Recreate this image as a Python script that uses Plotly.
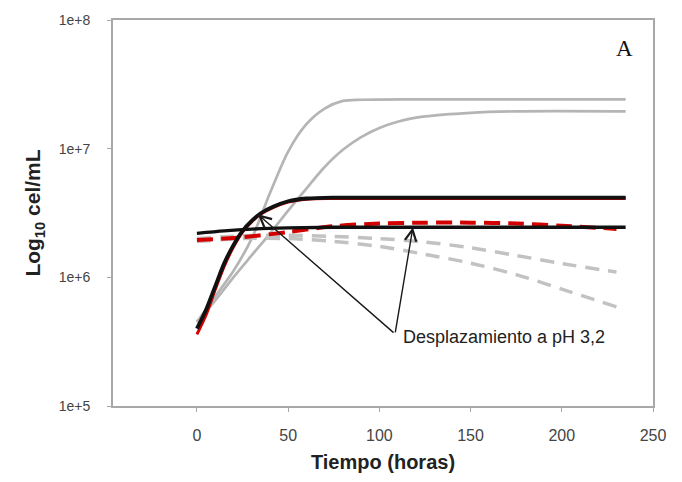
import plotly.graph_objects as go

# Time axis (hours) and cell densities (cel/mL) for each simulated culture
hours_fast = [0, 10, 20, 30, 40, 50, 60, 70, 80, 90, 120, 235]
gray_fast = [4.5e5, 7.1e5, 1.12e6, 2.0e6, 4.5e6, 9.5e6, 1.55e7, 2.05e7, 2.35e7, 2.4e7, 2.42e7, 2.42e7]

hours_slow = [0, 10, 20, 30, 40, 50, 60, 70, 80, 90, 100, 110, 125, 150, 175, 235]
gray_slow = [4.5e5, 6.6e5, 1.0e6, 1.48e6, 2.19e6, 3.3e6, 4.9e6, 7.2e6, 9.8e6, 1.23e7,
             1.45e7, 1.62e7, 1.78e7, 1.9e7, 1.95e7, 1.95e7]

hours_growth = [0, 5, 10, 15, 20, 25, 30, 35, 42, 50, 60, 75, 235]
black_growth = [4.0e5, 5.6e5, 8.5e5, 1.29e6, 1.78e6, 2.3e6, 2.75e6, 3.15e6, 3.55e6, 3.9e6, 4.1e6, 4.17e6, 4.17e6]
red_growth = [3.6e5, 5.1e5, 8.0e5, 1.22e6, 1.72e6, 2.25e6, 2.7e6, 3.1e6, 3.5e6, 3.85e6, 4.05e6, 4.1e6, 4.1e6]

hours_flat = [0, 15, 30, 50, 75, 235]
black_flat = [2.2e6, 2.3e6, 2.37e6, 2.42e6, 2.45e6, 2.45e6]

hours_dash = [0, 25, 50, 75, 100, 125, 150, 175, 200, 230]
red_dash = [1.95e6, 2.05e6, 2.25e6, 2.5e6, 2.62e6, 2.66e6, 2.66e6, 2.62e6, 2.52e6, 2.38e6]
gray_dash_hi = [2.0e6, 2.1e6, 2.12e6, 2.08e6, 2.0e6, 1.88e6, 1.7e6, 1.48e6, 1.28e6, 1.1e6]
gray_dash_lo = [1.9e6, 2.0e6, 2.0e6, 1.9e6, 1.74e6, 1.51e6, 1.29e6, 1.05e6, 8.1e5, 5.9e5]

# Arrow geometry: (hour, log10 cel/mL) for the shared tail and both tips
arrow_tail = (108.6, 5.56)
arrow_tips = [(33.4, 6.49), (118.4, 6.39)]

y_ticks = [1e5, 1e6, 1e7, 1e8]
y_tick_text = ["1e+5", "1e+6", "1e+7", "1e+8"]
x_ticks = [0, 50, 100, 150, 200, 250]

GRAY = "#b5b5b5"
DASH_GRAY = "#c2c2c2"
RED = "#d40000"
FONT = "Liberation Sans, Arial"

fig = go.Figure()

def add_line(x, y, color, width, dash="solid"):
    fig.add_trace(go.Scatter(
        x=x, y=y, mode="lines",
        line=dict(color=color, width=width, dash=dash, shape="spline", smoothing=0.8),
        hoverinfo="skip", showlegend=False,
    ))

add_line(hours_fast, gray_fast, GRAY, 2.7)
add_line(hours_slow, gray_slow, GRAY, 2.7)
add_line(hours_dash, gray_dash_hi, DASH_GRAY, 3.5, "14px,9px")
add_line(hours_dash, gray_dash_lo, DASH_GRAY, 3.5, "14px,9px")
add_line(hours_dash, red_dash, RED, 4, "16px,8px")
add_line(hours_growth, red_growth, RED, 3)
add_line(hours_growth, black_growth, "#111111", 3.8)
add_line(hours_flat, black_flat, "#111111", 3.3)

for tx, ty in arrow_tips:
    fig.add_annotation(
        x=tx, y=ty, ax=arrow_tail[0], ay=arrow_tail[1],
        xref="x", yref="y", axref="x", ayref="y",
        showarrow=True, arrowhead=5, arrowsize=1.6, arrowwidth=1.4,
        arrowcolor="#1a1a1a", text="",
    )

fig.add_annotation(
    x=arrow_tail[0], y=arrow_tail[1], xref="x", yref="y",
    text="Desplazamiento a pH 3,2", showarrow=False,
    xanchor="left", yanchor="middle", xshift=6, yshift=-3,
    font=dict(family=FONT, size=18, color="#222222"),
)

fig.add_annotation(
    x=0.948, y=0.925, xref="paper", yref="paper",
    xanchor="center", yanchor="middle",
    text="A", showarrow=False,
    font=dict(family="Liberation Serif, Times New Roman", size=23, color="#111111"),
)

fig.update_layout(
    width=682, height=482,
    margin=dict(l=113, r=29, t=19, b=74),
    paper_bgcolor="white", plot_bgcolor="white",
    showlegend=False,
)

fig.update_xaxes(
    range=[-46, 250], tickvals=x_ticks,
    showgrid=False, zeroline=False,
    showline=True, linecolor="#a8a8a8", linewidth=2, mirror=True,
    ticks="outside", ticklen=4, tickcolor="#a8a8a8", tickwidth=1,
    ticklabelstandoff=10,
    tickfont=dict(family=FONT, size=16, color="#444444"),
    title=dict(text="Tiempo (horas)", standoff=12,
               font=dict(family=FONT, size=20, color="#222222", weight="bold")),
)

fig.update_yaxes(
    type="log", range=[5, 8], tickvals=y_ticks, ticktext=y_tick_text,
    showgrid=False, zeroline=False,
    showline=True, linecolor="#a8a8a8", linewidth=2, mirror=True,
    ticks="outside", ticklen=4, tickcolor="#a8a8a8", tickwidth=1,
    ticklabelstandoff=14,
    tickfont=dict(family=FONT, size=14, color="#444444"),
    title=dict(text="Log<sub>10</sub> cel/mL", standoff=12,
               font=dict(family=FONT, size=21, color="#222222", weight="bold")),
)

fig.write_html("out.html")
